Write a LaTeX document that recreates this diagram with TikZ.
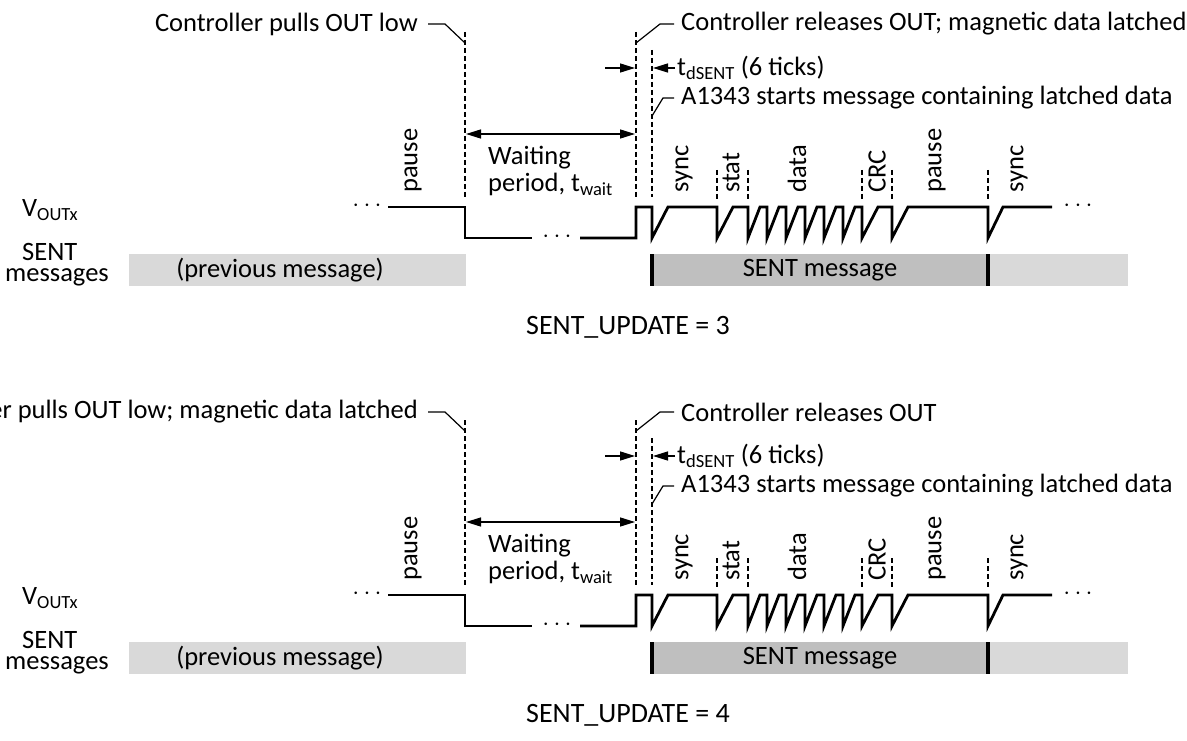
\documentclass[tikz,border=0pt]{standalone}
\usepackage{fontspec}
\setmainfont{Carlito}
\usetikzlibrary{arrows.meta}
\definecolor{lightbar}{HTML}{D9D9D9}
\definecolor{darkbar}{HTML}{BFBFBF}
\newcommand{\sentpanel}[4]{%
\begin{scope}[yshift=-#1pt, name prefix=#2-]
  % guide lines
  \coordinate (g1t) at (465,32);  \coordinate (g1b) at (465,197);
  \coordinate (g2t) at (636,32);  \coordinate (g2b) at (636,197);
  \coordinate (g3t) at (652,50);  \coordinate (g3b) at (652,197);
  \draw[guide] (g1t) -- (g1b);
  \draw[guide] (g2t) -- (g2b);
  \draw[guide] (g3t) -- (g3b);
  \foreach \gx [count=\gi] in {717,748,862,892,988}{
    \coordinate (s\gi t) at (\gx,170); \coordinate (s\gi b) at (\gx,200);
    \draw[guide] (s\gi t) -- (s\gi b);
  }
  % left leader
  \node[anchor=east] (ltxt) at (418,24) {#3};
  \coordinate (l1a) at (428,24); \coordinate (l1b) at (445,24); \coordinate (l1c) at (465,43);
  \draw[leader] (l1a) -- (l1b) -- (l1c);
  % right leader
  \node[anchor=west] (rtxt) at (681,24) {#4};
  \coordinate (r1a) at (674,24); \coordinate (r1b) at (660,24); \coordinate (r1c) at (636,43);
  \draw[leader] (r1a) -- (r1b) -- (r1c);
  % t_dSENT
  \node[anchor=west] (tdtxt) at (677,68) {t\textsubscript{dSENT} (6 ticks)};
  \coordinate (ta) at (605,68); \coordinate (tb) at (635,68);
  \coordinate (tc) at (675,68); \coordinate (td) at (653,68);
  \draw[dim] (ta) -- (tb);
  \draw[dim] (tc) -- (td);
  % A1343 leader
  \node[anchor=west] (atxt) at (681,98) {A1343 starts message containing latched data};
  \coordinate (a1a) at (674,98); \coordinate (a1b) at (663,98); \coordinate (a1c) at (652,116);
  \draw[leader] (a1a) -- (a1b) -- (a1c);
  % waiting period
  \coordinate (wa) at (466,134); \coordinate (wb) at (635,134);
  \draw[dimboth] (wa) -- (wb);
  \node[anchor=west] (wt1) at (488,158) {Waiting};
  \node[anchor=west] (wt2) at (488,184) {period, t\textsubscript{wait}};
  % segment labels
  \node[lbl] (lp1) at (413,193) {pause};
  \node[lbl] (ls1) at (684,193) {sync};
  \node[lbl] (lst) at (731,193) {stat};
  \node[lbl] (ldt) at (797,193) {data};
  \node[lbl] (lcr) at (877,193) {CRC};
  \node[lbl] (lp2) at (937,193) {pause};
  \node[lbl] (ls2) at (1019,193) {sync};
  % waveform
  \node (dl) at (367,206) {$\cdots$};
  \node (dm) at (557,237) {$\cdots$};
  \node (dr) at (1078,206) {$\cdots$};
  \draw[wave] (388,207) -- (465,207) -- (465,238) -- (532,238);
  \draw[wave] (580,238) -- (636,238) -- (636,207) -- (652,207) -- (652,238)
     -- (668,207) -- (717,207) -- (717,238) -- (733,207) -- (748,207)
     -- (748,238) -- (760,207) -- (767,207)
     -- (767,238) -- (779,207) -- (786,207)
     -- (786,238) -- (798,207) -- (805,207)
     -- (805,238) -- (817,207) -- (824,207)
     -- (824,238) -- (836,207) -- (843,207)
     -- (843,238) -- (855,207) -- (862,207)
     -- (862,238) -- (878,207) -- (892,207)
     -- (892,238) -- (908,207) -- (988,207)
     -- (988,238) -- (1003,207) -- (1052,207);
  % row labels
  \node[anchor=west] (vout) at (22,210) {V\textsubscript{OUTx}};
  \node[anchor=west] (sent) at (22,252) {SENT};
  \node[anchor=west] (msgs) at (5,277) {messages};
  % message bars
  \node[bar, fill=lightbar, minimum width=337pt, anchor=north west] (prev) at (129,254) {};
  \node (prevtxt) at (280,270) {(previous message)};
  \node[bar, fill=darkbar, minimum width=336pt, anchor=north west] (msg) at (652,254) {};
  \node (msgtxt) at (820,270) {SENT message};
  \node[bar, fill=lightbar, minimum width=140pt, anchor=north west] (next) at (988,254) {};
  \draw[line width=4pt] (msg.north west) -- (msg.south west);
  \draw[line width=4pt] (msg.north east) -- (msg.south east);
\end{scope}}
\begin{document}
\begin{tikzpicture}[x=1pt,y=-1pt,
  every node/.style={font=\fontsize{26.5}{30}\selectfont, inner sep=0pt},
  wave/.style={line width=2.8pt, line join=miter},
  guide/.style={line width=1.4pt, dash pattern=on 5pt off 3pt},
  leader/.style={line width=1.2pt},
  dim/.style={line width=1.4pt, -{Triangle[length=15pt,width=9pt]}},
  dimboth/.style={line width=1.4pt, {Triangle[length=15pt,width=9pt]}-{Triangle[length=15pt,width=9pt]}},
  lbl/.style={rotate=90, anchor=west},
  bar/.style={draw=none, minimum height=32pt, inner sep=0pt},
  update/.style={font=\fontsize{28}{32}\selectfont}]
\useasboundingbox (0,0) rectangle (1187,741);
\sentpanel{0}{p1}{Controller pulls OUT low}{Controller releases OUT; magnetic data latched}
\node[update] (upd3) at (628,327) {SENT\_UPDATE = 3};
\sentpanel{388}{p2}{Controller pulls OUT low; magnetic data latched}{Controller releases OUT}
\node[update] (upd4) at (628,715) {SENT\_UPDATE = 4};
\end{tikzpicture}
\end{document}
